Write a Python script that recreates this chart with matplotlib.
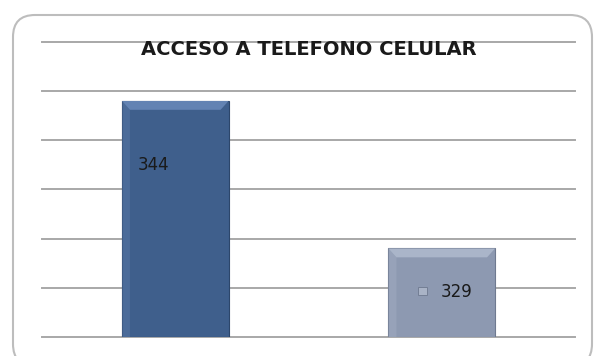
import matplotlib.pyplot as plt
from matplotlib.patches import FancyBboxPatch, Polygon, Rectangle

categories = ["Si", "No"]
values = [344, 329]
bar_colors = ["#3f5f8c", "#8d99b1"]
top_colors = ["#6383b3", "#aab5c9"]
edge_colors = ["#2c466b", "#6f7a90"]

fig = plt.figure(figsize=(5.94, 3.56), dpi=100)

# rounded chart frame (inches)
frame = FancyBboxPatch((0.13, -0.1), 5.79, 3.51, transform=fig.dpi_scale_trans,
                       boxstyle="round,pad=0,rounding_size=0.22",
                       facecolor="white", edgecolor="#bdbdbd", linewidth=1.5,
                       zorder=-1)
fig.patches.append(frame)

ax = fig.add_axes([0.0707, 0.0534, 0.8973, 0.8287])
ax.set_facecolor("none")
ax.set_xlim(-0.5, 1.5)
ax.set_ylim(320, 350)
ax.set_yticks(range(320, 351, 5))
ax.yaxis.grid(True, color="#a8a8a8", linewidth=1.4)
for gl in ax.get_ygridlines():
    gl.set_clip_on(False)
ax.set_axisbelow(True)
ax.tick_params(left=False, bottom=False, labelleft=False, labelbottom=False)
for s in ax.spines.values():
    s.set_visible(False)

width = 0.4
bars = ax.bar(range(len(values)), [v - 320 for v in values], bottom=320,
              width=width, color=bar_colors, edgecolor=edge_colors, linewidth=0.8,
              zorder=3)

# bevel highlight on top of each bar
for b, c in zip(bars, top_colors):
    x0 = b.get_x()
    x1 = x0 + b.get_width()
    top = b.get_y() + b.get_height()
    dx, dy = 0.03, 0.9
    ax.add_patch(Polygon([(x0, top), (x1, top), (x1 - dx, top - dy), (x0 + dx, top - dy)],
                         closed=True, facecolor=c, edgecolor="none", zorder=4))
    ax.add_patch(Polygon([(x0, top), (x0 + dx, top - dy), (x0 + dx, 320), (x0, 320)],
                         closed=True, facecolor=c, edgecolor="none", alpha=0.35, zorder=4))

ax.text(-0.14, 337.5, str(values[0]), fontsize=12, family="DejaVu Sans",
        va="center", ha="left", color="#1a1a1a", zorder=5)
ax.add_patch(Rectangle((0.911, 324.26), 0.034, 0.81, facecolor="#a9b3c6",
                       edgecolor="#737e94", linewidth=0.7, zorder=5))
ax.text(0.997, 324.6, str(values[1]), fontsize=12, family="DejaVu Sans",
        va="center", ha="left", color="#1a1a1a", zorder=5)

fig.text(0.52, 0.862, "ACCESO A TELEFONO CELULAR", fontsize=14, fontweight="bold",
         family="DejaVu Sans", ha="center", va="center", color="#1a1a1a")

fig.savefig("out.png", dpi=100)
